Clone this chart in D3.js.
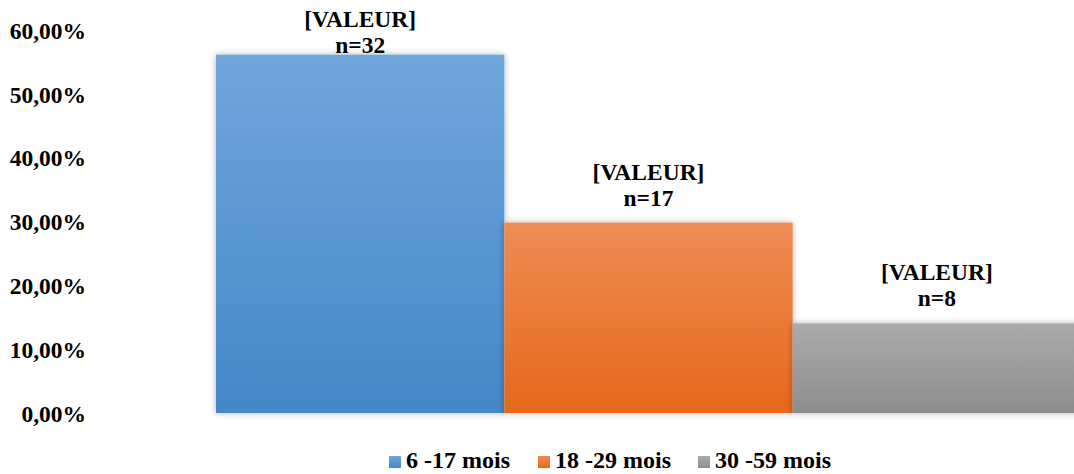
<!DOCTYPE html>
<html>
<head>
<meta charset="utf-8">
<script src="https://cdn.jsdelivr.net/npm/d3@7"></script>
<style>
  body { margin: 0; background: #fff; }
  text { font-family: "Liberation Serif", "Times New Roman", serif; font-weight: bold; fill: #000; }
</style>
</head>
<body>
<svg id="chart" width="1074" height="474"></svg>
<script>
// data
const groups = ["6 -17 mois", "18 -29 mois", "30 -59 mois"]
const counts = [32, 17, 8]
const shares = [0.5614, 0.2982, 0.1404]
const yTicks = [0, 0.1, 0.2, 0.3, 0.4, 0.5, 0.6]
const colorsTop = ["#70a6db", "#f08c55", "#ababab"]
const colorsBottom = ["#4487c8", "#e5681b", "#8d8d8d"]

const width = 1074, height = 474
const margin = { top: 30, bottom: 61, left: 216, right: -7 }
const fontSize = "23.5px"

const svg = d3.select("#chart")
const defs = svg.append("defs")

// gradients
groups.forEach((g, i) => {
	const grad = defs.append("linearGradient")
		.attr("id", "grad" + i)
		.attr("x1", 0).attr("y1", 0).attr("x2", 0).attr("y2", 1)
	grad.append("stop").attr("offset", "0%").attr("stop-color", colorsTop[i])
	grad.append("stop").attr("offset", "100%").attr("stop-color", colorsBottom[i])
})

const shadow = defs.append("filter").attr("id", "shadow")
	.attr("x", "-10%").attr("y", "-10%").attr("width", "120%").attr("height", "120%")
shadow.append("feDropShadow")
	.attr("dx", 0).attr("dy", 0).attr("stdDeviation", 3)
	.attr("flood-color", "#000").attr("flood-opacity", 0.3)

// scales
const x = d3.scaleBand()
	.domain(groups)
	.range([margin.left, width - margin.right])
	.padding(0)

const y = d3.scaleLinear()
	.domain([0, 0.6])
	.range([height - margin.bottom, margin.top])

// y axis
const fmt = d => d3.format(".2f")(d * 100).replace(".", ",") + "%"
const yAxis = svg.append("g")
	.attr("transform", `translate(86, 0)`)
	.call(d3.axisLeft(y).tickValues(yTicks).tickFormat(fmt).tickSize(0).tickPadding(0))
yAxis.select(".domain").remove()
yAxis.attr("font-family", null).attr("font-size", null)
yAxis.selectAll("text")
	.attr("dy", "0.35em")
	.style("font-size", fontSize)

// bars
svg.append("g")
	.selectAll("rect")
	.data(groups)
	.join("rect")
	.attr("x", d => x(d))
	.attr("y", (d, i) => y(shares[i]))
	.attr("width", x.bandwidth())
	.attr("height", (d, i) => y(0) - y(shares[i]))
	.attr("fill", (d, i) => `url(#grad${i})`)
	.attr("filter", "url(#shadow)")

// labels (first one is pushed down to stay inside the chart)
const labels = svg.append("g")
	.selectAll("g")
	.data(groups)
	.join("g")
	.attr("transform", (d, i) => {
		const top = Math.max(y(shares[i]), 70)
		return `translate(${x(d) + x.bandwidth() / 2}, ${top})`
	})
labels.append("text")
	.attr("text-anchor", "middle")
	.attr("y", -43)
	.style("font-size", fontSize)
	.text("[VALEUR]")
labels.append("text")
	.attr("text-anchor", "middle")
	.attr("y", -17)
	.style("font-size", fontSize)
	.text((d, i) => "n=" + counts[i])

// legend
const legendX = [389, 538, 698]
const legend = svg.append("g")
	.selectAll("g")
	.data(groups)
	.join("g")
	.attr("transform", (d, i) => `translate(${legendX[i]}, 456)`)
legend.append("rect")
	.attr("width", 12).attr("height", 12)
	.attr("fill", (d, i) => `url(#grad${i})`)
legend.append("text")
	.attr("x", 17)
	.attr("y", 12)
	.style("font-size", "24px")
	.text(d => d)
</script>
</body>
</html>
